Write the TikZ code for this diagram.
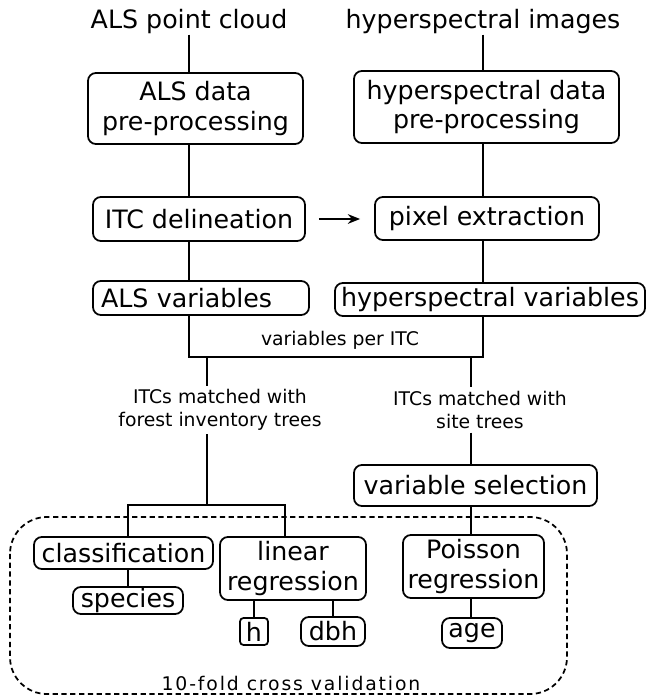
\documentclass[tikz,border=0pt]{standalone}
\usepackage{fontspec}
\setmainfont{DejaVu Sans}
\newfontfamily\spacedfont[LetterSpace=10]{DejaVu Sans}
\usetikzlibrary{arrows.meta}
\newlength{\unitpx}
\setlength{\unitpx}{0.02cm}
\tikzstyle{source} = [inner sep=0pt, font=\fontsize{14.4}{17}\selectfont]
\tikzstyle{process} = [rectangle, rounded corners=4.5pt, line width=1pt, align=center, inner sep=0pt, draw=black, fill=white, font=\fontsize{14.4}{17}\selectfont]
\tikzstyle{note} = [inner sep=2pt, align=center, font=\fontsize{10.7}{13}\selectfont]
\tikzstyle{line} = [line width=1pt]
\tikzstyle{arrow} = [line width=1pt,-{Stealth[length=7pt,width=5.5pt]}]

\begin{document}
\begin{tikzpicture}[x=\unitpx, y=-\unitpx]
        \useasboundingbox (0,0) rectangle (647,695);

        % cross validation frame
        \draw [line, dash pattern=on 3pt off 2pt, rounded corners=21pt] (10,517) rectangle (567,694);
        \node (cvtext) at (291,683) {\spacedfont\fontsize{10.7}{13}\selectfont 10-fold cross validation};

        \node (alssrc) [source] at (189,22) {ALS point cloud};
        \node (hypsrc) [source] at (483,22) {hyperspectral images};

        \node (alsprep) [process, minimum width=215*\unitpx, minimum height=71*\unitpx] at (195.5,108.5) {ALS data\\pre-processing};
        \node (hypprep) [process, minimum width=265*\unitpx, minimum height=72*\unitpx] at (486.5,107) {hyperspectral data\\pre-processing};

        \node (itc) [process, minimum width=212*\unitpx, minimum height=44*\unitpx] at (199,219) {ITC delineation};
        \node (pixel) [process, minimum width=224*\unitpx, minimum height=43*\unitpx] at (487,218.5) {pixel extraction};

        \node (alsvar) [process, text width=200*\unitpx, inner xsep=8*\unitpx, align=left, minimum height=34*\unitpx] at (201,298) {ALS variables};
        \node (hypvar) [process, minimum width=310*\unitpx, minimum height=33*\unitpx] at (490,299.5) {hyperspectral variables};

        \node (perItc) [note] at (340,340) {variables per ITC};
        \node (forest) [note] at (220,410) {ITCs matched with\\forest inventory trees};
        \node (site) [note] at (480,410) {ITCs matched with\\site trees};

        \node (varsel) [process, minimum width=243*\unitpx, minimum height=41*\unitpx] at (475.5,485.5) {variable selection};

        \node (classif) [process, minimum width=179*\unitpx, minimum height=32*\unitpx] at (123.5,553) {classification};
        \node (linreg) [process, minimum width=146*\unitpx, minimum height=63*\unitpx] at (293,568.5) {linear\\regression};
        \node (poisson) [process, minimum width=141*\unitpx, minimum height=63*\unitpx] at (473.5,566.5) {Poisson\\regression};

        \node (species) [process, minimum width=110*\unitpx, minimum height=27*\unitpx] at (128,600.5) {species};
        \node (h) [process, minimum width=28*\unitpx, minimum height=27*\unitpx, rounded corners=2pt] at (254,631.5) {h};
        \node (dbh) [process, minimum width=64*\unitpx, minimum height=29*\unitpx] at (333,631.5) {dbh};
        \node (age) [process, minimum width=60*\unitpx, minimum height=30*\unitpx] at (472,633) {age};

        \coordinate (bus) at (340,357);
        \coordinate (forestbranch) at (207,357);
        \coordinate (sitebranch) at (471,357);
        \coordinate (split) at (207,505);

        \draw [line] (alssrc.south) -- (alssrc.south |- alsprep.north);
        \draw [line] (alsprep.south -| alssrc) -- (itc.north -| alssrc);
        \draw [line] (itc.south -| alssrc) -- (alsvar.north -| alssrc);
        \draw [line] (hypsrc.south) -- (hypsrc.south |- hypprep.north);
        \draw [line] (hypprep.south -| hypsrc) -- (pixel.north -| hypsrc);
        \draw [line] (pixel.south -| hypsrc) -- (hypvar.north -| hypsrc);
        \draw [arrow, shorten <=13*\unitpx, shorten >=14*\unitpx] (itc.east) -- (itc.east -| pixel.west);

        \draw [line] (alsvar.south -| alssrc) |- (bus) -| (hypvar.south -| hypsrc);
        \draw [line] (forestbranch) -- (forestbranch |- forest.north);
        \draw [line] (forest.south -| forestbranch) -- (split);
        \draw [line] (classif.north -| species) |- (split) -| ([xshift=-8*\unitpx]linreg.north);
        \draw [line] (classif.south -| species) -- (species.north);
        \draw [line] (h.north) -- (h.north |- linreg.south);
        \draw [line] (dbh.north) -- (dbh.north |- linreg.south);

        \draw [line] (sitebranch) -- (sitebranch |- site.north);
        \draw [line] (site.south -| sitebranch) -- (sitebranch |- varsel.north);
        \draw [line] (varsel.south -| sitebranch) -- (sitebranch |- poisson.north);
        \draw [line] (poisson.south -| sitebranch) -- (sitebranch |- age.north);
\end{tikzpicture}
\end{document}
